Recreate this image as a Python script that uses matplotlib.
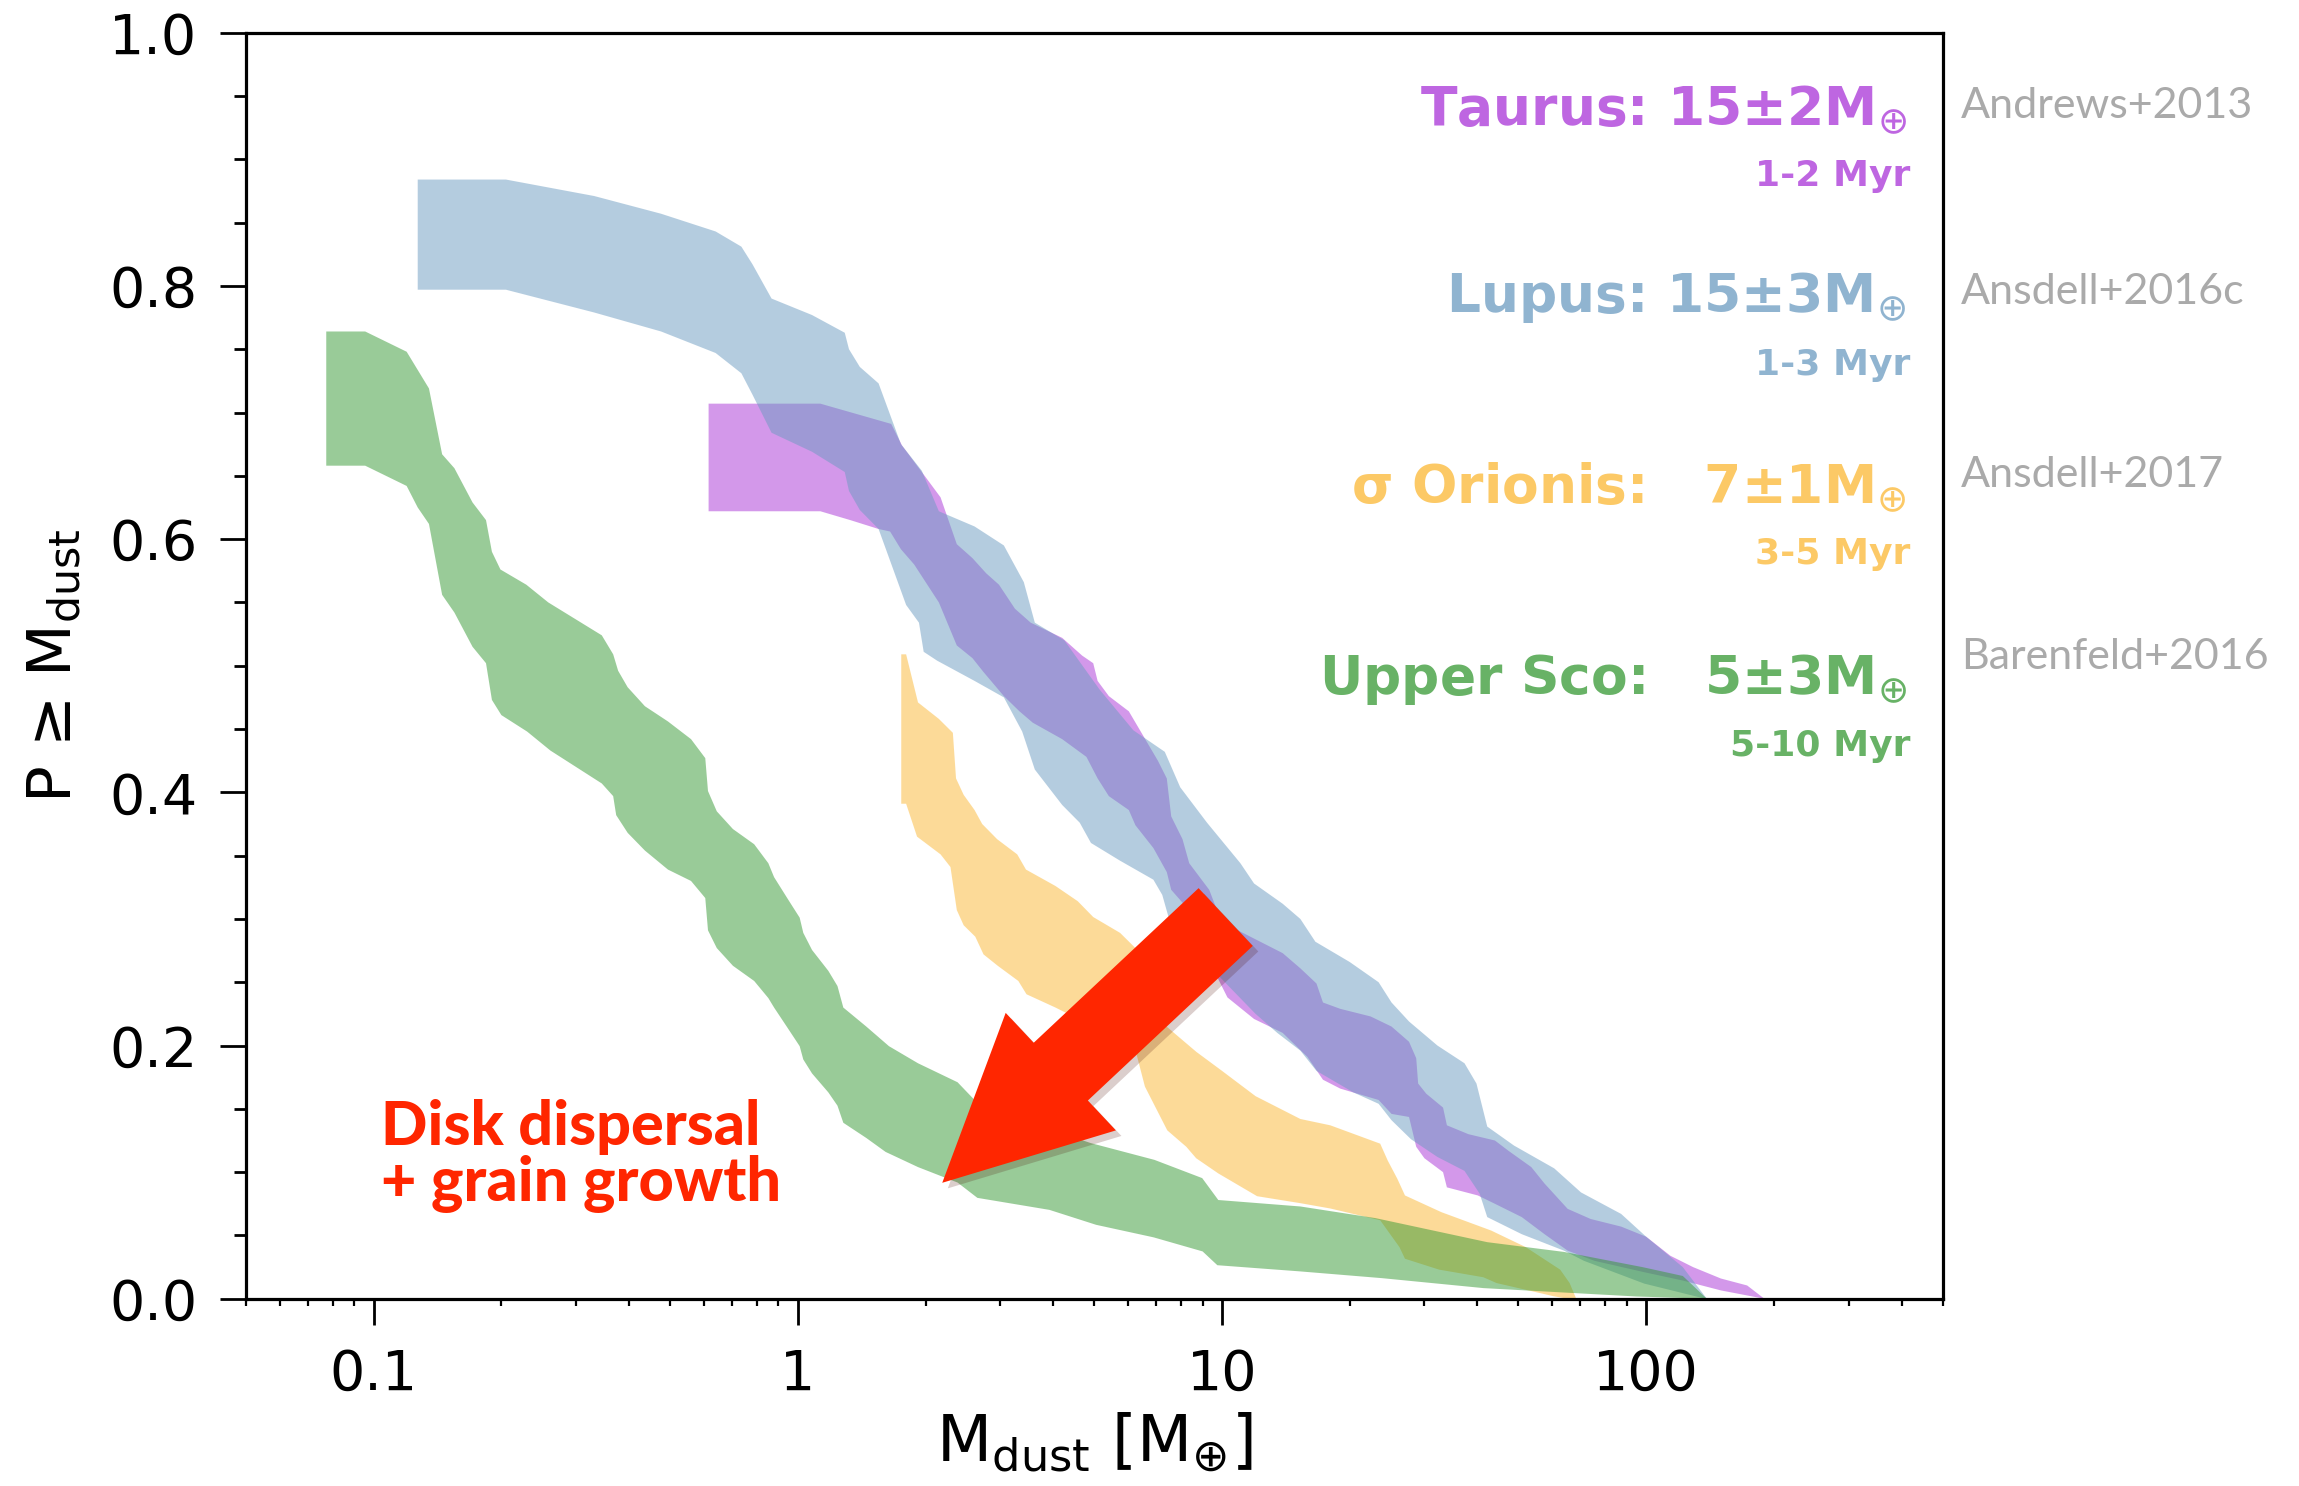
import matplotlib
matplotlib.use("Agg")
import matplotlib.pyplot as plt
import matplotlib.ticker as mticker
import matplotlib.patheffects as pe

# ---------------- data ----------------
# Taurus band
taurus_up_x = [0.616, 1.13, 1.66, 1.76, 1.99, 2.17, 2.37, 2.58, 2.78, 2.98, 3.25, 3.54, 4.20, 4.68, 4.97,
               5.09, 5.41, 6.03, 7.06, 7.41, 7.59, 8.07, 8.37, 9.33, 9.68, 10.9, 13.9, 15.3, 16.7, 17.3,
               19.0, 22.4, 25.1, 27.6, 28.7, 29.0, 30.3, 33.2, 33.9, 38.1, 44.0, 47.3, 53.6, 57.6, 65.3,
               74.0, 87.3, 100, 114, 129, 150, 173, 190]
taurus_up_y = [0.707, 0.707, 0.691, 0.674, 0.650, 0.633, 0.596, 0.585, 0.573, 0.564, 0.545, 0.534, 0.522,
               0.508, 0.502, 0.488, 0.476, 0.464, 0.425, 0.411, 0.381, 0.363, 0.344, 0.323, 0.309, 0.291,
               0.273, 0.261, 0.249, 0.234, 0.229, 0.223, 0.215, 0.203, 0.190, 0.170, 0.162, 0.151, 0.137,
               0.130, 0.125, 0.117, 0.104, 0.091, 0.071, 0.063, 0.057, 0.049, 0.034, 0.025, 0.016, 0.0105, 0.0]
taurus_lo_x = [0.616, 1.13, 1.33, 1.55, 1.65, 1.75, 1.88, 2.15, 2.37, 2.58, 2.74, 3.06, 3.33, 3.58, 4.20,
               4.79, 5.09, 5.41, 6.03, 6.25, 6.89, 7.41, 7.59, 8.26, 9.68, 10.3, 11.9, 13.9, 15.9, 17.3,
               19.0, 23.4, 25.1, 27.6, 28.7, 30.0, 33.2, 33.9, 40.1, 44.0, 50.9, 57.6, 65.3, 75.5, 98.9,
               122, 150, 190]
taurus_lo_y = [0.622, 0.622, 0.615, 0.608, 0.606, 0.592, 0.580, 0.550, 0.516, 0.506, 0.495, 0.476, 0.464,
               0.455, 0.442, 0.428, 0.411, 0.397, 0.386, 0.374, 0.356, 0.337, 0.323, 0.309, 0.256, 0.238,
               0.221, 0.210, 0.191, 0.173, 0.166, 0.157, 0.146, 0.1436, 0.120, 0.111, 0.100, 0.088, 0.0816,
               0.075, 0.0645, 0.051, 0.038, 0.030, 0.021, 0.0144, 0.0066, 0.0]

# Lupus band
lupus_up_x = [0.127, 0.205, 0.331, 0.476, 0.640, 0.736, 0.782, 0.867, 1.08, 1.29, 1.32, 1.40, 1.55, 1.75,
              1.96, 2.15, 2.61, 3.06, 3.41, 3.62, 4.25, 5.15, 6.18, 7.33, 7.97, 9.22, 11.05, 11.9, 13.9,
              15.3, 16.6, 20.0, 23.4, 25.1, 27.6, 32.2, 37.3, 39.8, 42.2, 48.8, 60.7, 70.2, 87.3, 100,
              122, 139]
lupus_up_y = [0.884, 0.884, 0.871, 0.857, 0.843, 0.831, 0.817, 0.790, 0.777, 0.763, 0.750, 0.736, 0.723,
              0.675, 0.654, 0.622, 0.610, 0.595, 0.566, 0.534, 0.520, 0.481, 0.449, 0.432, 0.404, 0.376,
              0.344, 0.328, 0.312, 0.300, 0.282, 0.266, 0.250, 0.234, 0.219, 0.200, 0.186, 0.170, 0.136,
              0.121, 0.103, 0.084, 0.067, 0.049, 0.025, 0.0]
lupus_lo_x = [0.127, 0.205, 0.331, 0.476, 0.640, 0.736, 0.782, 0.867, 1.08, 1.29, 1.32, 1.40, 1.55, 1.80,
              1.93, 1.98, 2.13, 2.61, 3.06, 3.38, 3.62, 4.20, 4.62, 4.91, 5.75, 6.89, 7.23, 7.59, 9.5,
              12.0, 13.5, 15.3, 16.7, 20.4, 23.4, 25.1, 27.9, 32.2, 37.3, 40.5, 42.2, 50.9, 64, 71.3,
              98.9, 138]
lupus_lo_y = [0.797, 0.797, 0.779, 0.764, 0.747, 0.731, 0.714, 0.684, 0.669, 0.653, 0.638, 0.623, 0.608,
              0.548, 0.534, 0.511, 0.504, 0.488, 0.475, 0.448, 0.418, 0.390, 0.376, 0.360, 0.346, 0.331,
              0.319, 0.294, 0.260, 0.225, 0.210, 0.196, 0.180, 0.163, 0.154, 0.141, 0.126, 0.112, 0.101,
              0.083, 0.0645, 0.051, 0.038, 0.030, 0.012, 0.0]

# sigma Orionis band
sori_up_x = [1.753, 1.80, 1.92, 2.15, 2.32, 2.36, 2.46, 2.61, 2.72, 2.95, 3.29, 3.45, 4.05, 4.57, 4.97,
             5.75, 6.25, 7.4, 8.7, 10.0, 12.0, 15.3, 18.0, 23.6, 24.6, 25.9, 27.0, 32.9, 43.1, 52.0,
             62.7, 66.0, 68.4]
sori_up_y = [0.509, 0.509, 0.471, 0.458, 0.447, 0.411, 0.398, 0.386, 0.375, 0.363, 0.351, 0.339, 0.326,
             0.314, 0.3015, 0.289, 0.277, 0.215, 0.195, 0.180, 0.160, 0.142, 0.137, 0.1225, 0.109, 0.0948,
             0.0816, 0.0684, 0.0539, 0.0408, 0.023, 0.0124, 0.0]
sori_lo_x = [1.753, 1.80, 1.91, 2.17, 2.29, 2.37, 2.46, 2.62, 2.74, 2.96, 3.31, 3.46, 4.05, 4.58, 4.97,
             6.25, 6.58, 7.43, 8.24, 8.69, 9.80, 12.1, 15.3, 18.0, 23.6, 26.2, 27.0, 32.5, 41.3, 44.4,
             60.5, 65.3]
sori_lo_y = [0.391, 0.391, 0.365, 0.351, 0.341, 0.307, 0.295, 0.286, 0.272, 0.263, 0.251, 0.2405, 0.230,
             0.221, 0.210, 0.1965, 0.1676, 0.133, 0.120, 0.111, 0.099, 0.081, 0.0755, 0.0713, 0.062,
             0.0408, 0.0316, 0.023, 0.017, 0.0124, 0.002, 0.0]

# Upper Sco band
usco_up_x = [0.0773, 0.0955, 0.1196, 0.135, 0.145, 0.155, 0.171, 0.184, 0.190, 0.199, 0.229, 0.258, 0.345,
             0.367, 0.377, 0.397, 0.436, 0.494, 0.560, 0.605, 0.614, 0.644, 0.703, 0.789, 0.852, 0.879,
             0.950, 1.01, 1.03, 1.08, 1.18, 1.24, 1.28, 1.45, 1.64, 1.92, 2.38, 2.61, 3.2, 4.0, 4.90,
             6.93, 8.98, 9.8, 15.3, 23.0, 42.2, 64, 98, 122, 139]
usco_up_y = [0.764, 0.764, 0.748, 0.719, 0.667, 0.656, 0.629, 0.615, 0.590, 0.576, 0.564, 0.550, 0.524,
             0.509, 0.496, 0.483, 0.468, 0.456, 0.442, 0.427, 0.401, 0.385, 0.371, 0.359, 0.344, 0.333,
             0.315, 0.301, 0.289, 0.2755, 0.259, 0.247, 0.230, 0.215, 0.1995, 0.186, 0.171, 0.157, 0.145,
             0.133, 0.123, 0.1097, 0.0953, 0.078, 0.0729, 0.0637, 0.0447, 0.037, 0.025, 0.018, 0.0]
usco_lo_x = [0.0773, 0.0955, 0.1196, 0.127, 0.135, 0.145, 0.155, 0.171, 0.184, 0.190, 0.200, 0.230, 0.261,
             0.345, 0.367, 0.373, 0.397, 0.436, 0.494, 0.560, 0.605, 0.614, 0.644, 0.703, 0.789, 0.852,
             0.879, 0.950, 1.01, 1.03, 1.08, 1.18, 1.24, 1.28, 1.45, 1.61, 1.92, 2.38, 2.65, 3.92, 5.05,
             6.9, 9.0, 9.75, 15.3, 23.8, 41.4, 94.8, 139]
usco_lo_y = [0.658, 0.658, 0.642, 0.625, 0.612, 0.556, 0.542, 0.515, 0.502, 0.473, 0.461, 0.448, 0.433,
             0.407, 0.397, 0.382, 0.368, 0.354, 0.339, 0.330, 0.3165, 0.291, 0.277, 0.263, 0.251, 0.2375,
             0.230, 0.213, 0.1995, 0.189, 0.178, 0.163, 0.1525, 0.139, 0.127, 0.116, 0.104, 0.0918,
             0.0797, 0.0702, 0.0584, 0.0485, 0.0374, 0.0265, 0.0216, 0.0163, 0.0084, 0.0018, 0.0]

regions = ["Taurus", "Lupus", "σ Orionis", "Upper Sco"]
region_labels = ["Taurus: 15±2M$_{\\oplus}$", "Lupus: 15±3M$_{\\oplus}$",
                 "σ Orionis:   7±1M$_{\\oplus}$", "Upper Sco:   5±3M$_{\\oplus}$"]
ages = ["1-2 Myr", "1-3 Myr", "3-5 Myr", "5-10 Myr"]
refs = ["Andrews+2013", "Ansdell+2016c", "Ansdell+2017", "Barenfeld+2016"]
colors = ["#a933d7", "#6b9bc1", "#fbb733", "#359933"]

xticks = [0.1, 1, 10, 100]
xticklabels = ["0.1", "1", "10", "100"]
yticks = [0.0, 0.2, 0.4, 0.6, 0.8, 1.0]
yticklabels = ["0.0", "0.2", "0.4", "0.6", "0.8", "1.0"]

# ---------------- figure ----------------
fig = plt.figure(figsize=(22.99, 14.86), dpi=100)
ax = fig.add_axes([0.107, 0.126, 0.738, 0.852])

bands = [(taurus_up_x, taurus_up_y, taurus_lo_x, taurus_lo_y),
         (lupus_up_x, lupus_up_y, lupus_lo_x, lupus_lo_y),
         (sori_up_x, sori_up_y, sori_lo_x, sori_lo_y),
         (usco_up_x, usco_up_y, usco_lo_x, usco_lo_y)]
for (ux, uy, lx, ly), c in zip(bands, colors):
    ax.fill(list(ux) + list(lx)[::-1], list(uy) + list(ly)[::-1],
            facecolor=c, alpha=0.5, edgecolor="none", lw=0)

ax.set_xscale("log")
ax.set_xlim(0.05, 500)
ax.set_ylim(0, 1)
ax.set_xticks(xticks)
ax.set_xticklabels(xticklabels)
ax.xaxis.set_minor_locator(mticker.LogLocator(base=10, subs=range(2, 10), numticks=20))
ax.xaxis.set_minor_formatter(mticker.NullFormatter())
ax.set_yticks(yticks)
ax.set_yticklabels(yticklabels)
ax.yaxis.set_minor_locator(mticker.MultipleLocator(0.05))

for s in ax.spines.values():
    s.set_linewidth(2.3)
ax.tick_params(which="major", length=19, width=2, direction="out", labelsize=40, pad=16)
ax.tick_params(axis="x", which="minor", length=5, width=1.6, direction="out")
ax.tick_params(axis="y", which="minor", length=8.5, width=2, direction="out")

ax.set_xlabel("M$_{\\rm dust}$ [M$_{\\oplus}$]", fontsize=46, labelpad=6)
ax.set_ylabel("P ≥ M$_{\\rm dust}$", fontsize=44, labelpad=18)

# region labels
main_y = [0.927, 0.779, 0.628, 0.478]
sub_y = [0.879, 0.730, 0.580, 0.429]
ref_y = [0.942, 0.795, 0.651, 0.507]
for lab, age, ref, c, my, sy, ry in zip(region_labels, ages, refs, colors, main_y, sub_y, ref_y):
    ax.text(0.979, my, lab, transform=ax.transAxes, ha="right", va="baseline",
            fontsize=38.5, fontweight="bold", color=c, alpha=0.75)
    ax.text(0.981, sy, age, transform=ax.transAxes, ha="right", va="baseline",
            fontsize=26, fontweight="bold", color=c, alpha=0.75)
    ax.text(1.011, ry, ref, transform=ax.transAxes, ha="left", va="center",
            fontsize=31, family="Lato", color="#aaaaaa", clip_on=False)

# arrow
ann = ax.annotate("", xy=(2.19, 0.0916), xytext=(10.2, 0.3015),
                  arrowprops=dict(arrowstyle="simple,head_length=1.17,head_width=1.16,tail_width=0.57",
                                  mutation_scale=100, fc="#ff2600", ec="none",
                                  shrinkA=0, shrinkB=0))
ann.arrow_patch.set_path_effects([pe.SimplePatchShadow(offset=(4, -4), alpha=0.2), pe.Normal()])

ax.text(0.0795, 0.113, "Disk dispersal\n+ grain growth", transform=ax.transAxes,
        ha="left", va="center", fontsize=44, fontweight="black", family="Lato",
        color="#ff2600", linespacing=1.0)

fig.savefig("out.png", dpi=100)
